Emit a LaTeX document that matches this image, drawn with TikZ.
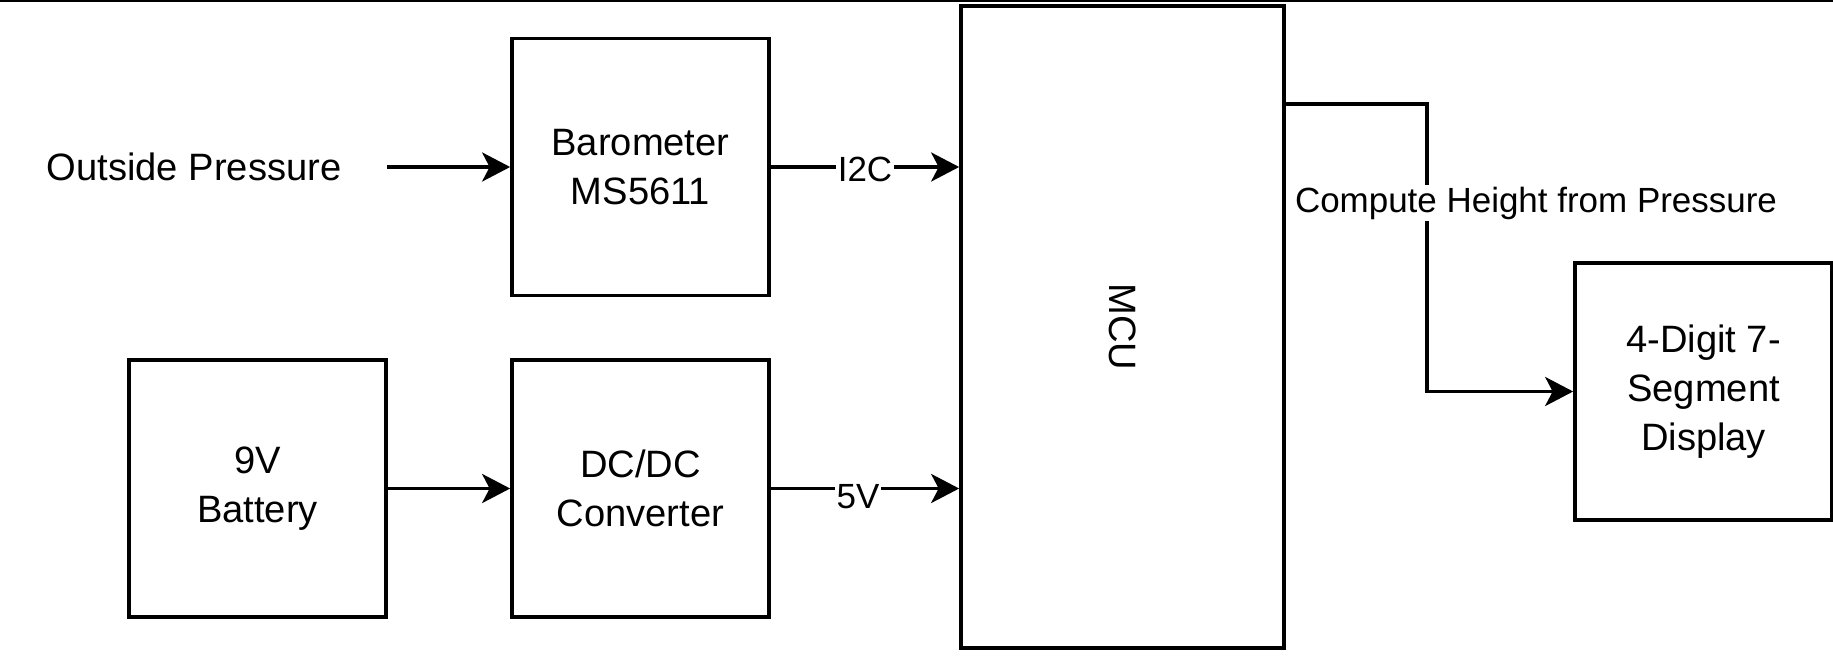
\documentclass[tikz,border=0pt]{standalone}
\usepackage{fontspec}
\setmainfont{Liberation Sans}
\usetikzlibrary{arrows.meta}
\begin{document}
\begin{tikzpicture}[
    block/.style={draw, line width=2.1pt, minimum width=5.14cm, minimum height=5.14cm,
      align=center, font=\fontsize{21.7}{28}\selectfont},
    conn/.style={line width=2pt, -{Stealth[length=0.56cm, width=0.58cm, inset=0.15cm]}},
    lbl/.style={fill=white, inner sep=1pt, font=\fontsize{19.9}{24}\selectfont}
  ]
  \useasboundingbox (0,0) rectangle (36.66,-13.14);
  \draw[line width=1.4pt] (0,-0.02) -- (36.66,-0.02);

  % blocks
  \node[align=center, minimum width=7.72cm, font=\fontsize{21.7}{28}\selectfont] (press) at (3.88,-3.34) {Outside Pressure};
  \node[block] (baro) at (12.81,-3.34) {Barometer\\MS5611};
  \node[block] (batt) at (5.15,-9.77) {9V\\Battery};
  \node[block] (dcdc) at (12.81,-9.77) {DC/DC\\Converter};
  \node[block, minimum width=6.46cm, minimum height=12.84cm] (mcu) at (22.45,-6.54) {};
  \node[rotate=-90, font=\fontsize{21.7}{28}\selectfont] (mcutxt) at (mcu.center) {MCU};
  \node[block] (disp) at (34.07,-7.83) {4-Digit 7-\\Segment\\Display};

  % connectors
  \draw[conn] (press.east) -- (baro.west);
  \draw[conn] (batt.east) -- (dcdc.west);
  \draw[conn] (baro.east) -- (baro.east -| mcu.west) node[lbl, pos=0.5, yshift=-0.04cm] {I2C};
  \draw[conn] (dcdc.east) -- (dcdc.east -| mcu.west) node[lbl, pos=0.5, xshift=-0.14cm, yshift=-0.16cm] {5V};

  \coordinate (mcuout) at (mcu.east |- 0,-2.08);
  \coordinate (bend) at (28.54,-2.08);
  \draw[conn] (mcuout) -- (bend) |- (disp.west);
  \node[lbl] (calc) at (30.72,-4.06) {Compute Height from Pressure};

\end{tikzpicture}
\end{document}
